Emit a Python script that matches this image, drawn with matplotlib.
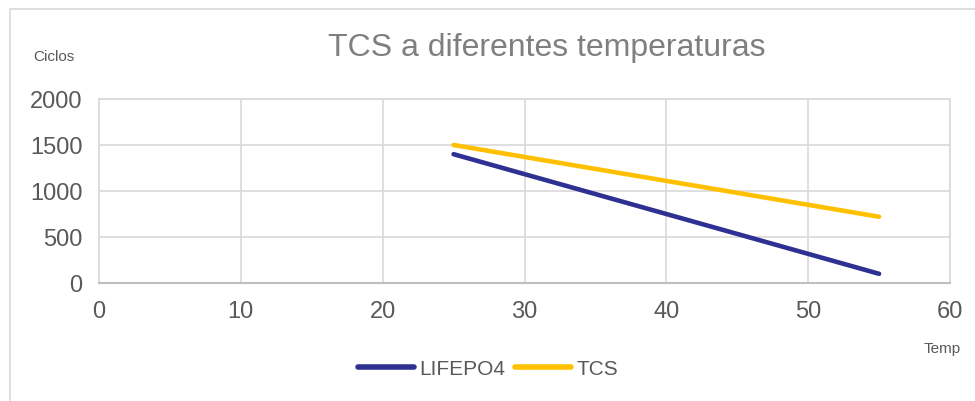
import matplotlib.pyplot as plt
from matplotlib.patches import Rectangle

plt.rcParams["font.family"] = ["Liberation Sans", "DejaVu Sans"]

# datos
temp = [25, 55]
lifepo4 = [1400, 100]
tcs = [1500, 720]

x_ticks = [0, 10, 20, 30, 40, 50, 60]
y_ticks = [0, 500, 1000, 1500, 2000]

gris_texto = "#595959"

fig = plt.figure(figsize=(9.75, 4.02), dpi=100)
ax = fig.add_axes([99 / 975, 1 - 284 / 402, 851 / 975, 184 / 402])

# marco del gráfico
fig.patches.append(Rectangle((10 / 975, -0.1), 1.1, 1 - 10 / 402 + 0.1,
                             transform=fig.transFigure, fill=False,
                             edgecolor="#D9D9D9", lw=1.2))

ax.plot(temp, lifepo4, color="#2E3192", lw=3.3, solid_capstyle="round", label="LIFEPO4")
ax.plot(temp, tcs, color="#FFC000", lw=3.3, solid_capstyle="round", label="TCS")

ax.set_xlim(0, 60)
ax.set_ylim(0, 2000)
ax.set_xticks(x_ticks)
ax.set_yticks(y_ticks)
ax.grid(True, color="#D9D9D9", lw=1.2)
ax.set_axisbelow(True)
for s in ["top", "right", "left"]:
    ax.spines[s].set_color("#D9D9D9")
    ax.spines[s].set_linewidth(1.2)
ax.spines["bottom"].set_color("#BFBFBF")
ax.spines["bottom"].set_linewidth(1.5)
ax.tick_params(length=0, labelsize=17, colors=gris_texto)
ax.tick_params(axis="y", pad=12)
ax.tick_params(axis="x", pad=12)

fig.text(0.561, 1 - 48 / 402, "TCS a diferentes temperaturas", ha="center", va="center",
         fontsize=23, color="#7F7F7F")
fig.text(54 / 975, 1 - 57 / 402, "Ciclos", ha="center", va="center", fontsize=11, color=gris_texto)
fig.text(942 / 975, 1 - 349 / 402, "Temp", ha="center", va="center", fontsize=11, color=gris_texto)

leg = fig.legend(loc="center", bbox_to_anchor=(488 / 975, 1 - 370 / 402), ncol=2, frameon=False,
                 fontsize=15, labelcolor=gris_texto, handlelength=2.7, handletextpad=0.25,
                 columnspacing=0.45)
for h in leg.get_lines():
    h.set_linewidth(4)

fig.savefig("out.png", dpi=100)
